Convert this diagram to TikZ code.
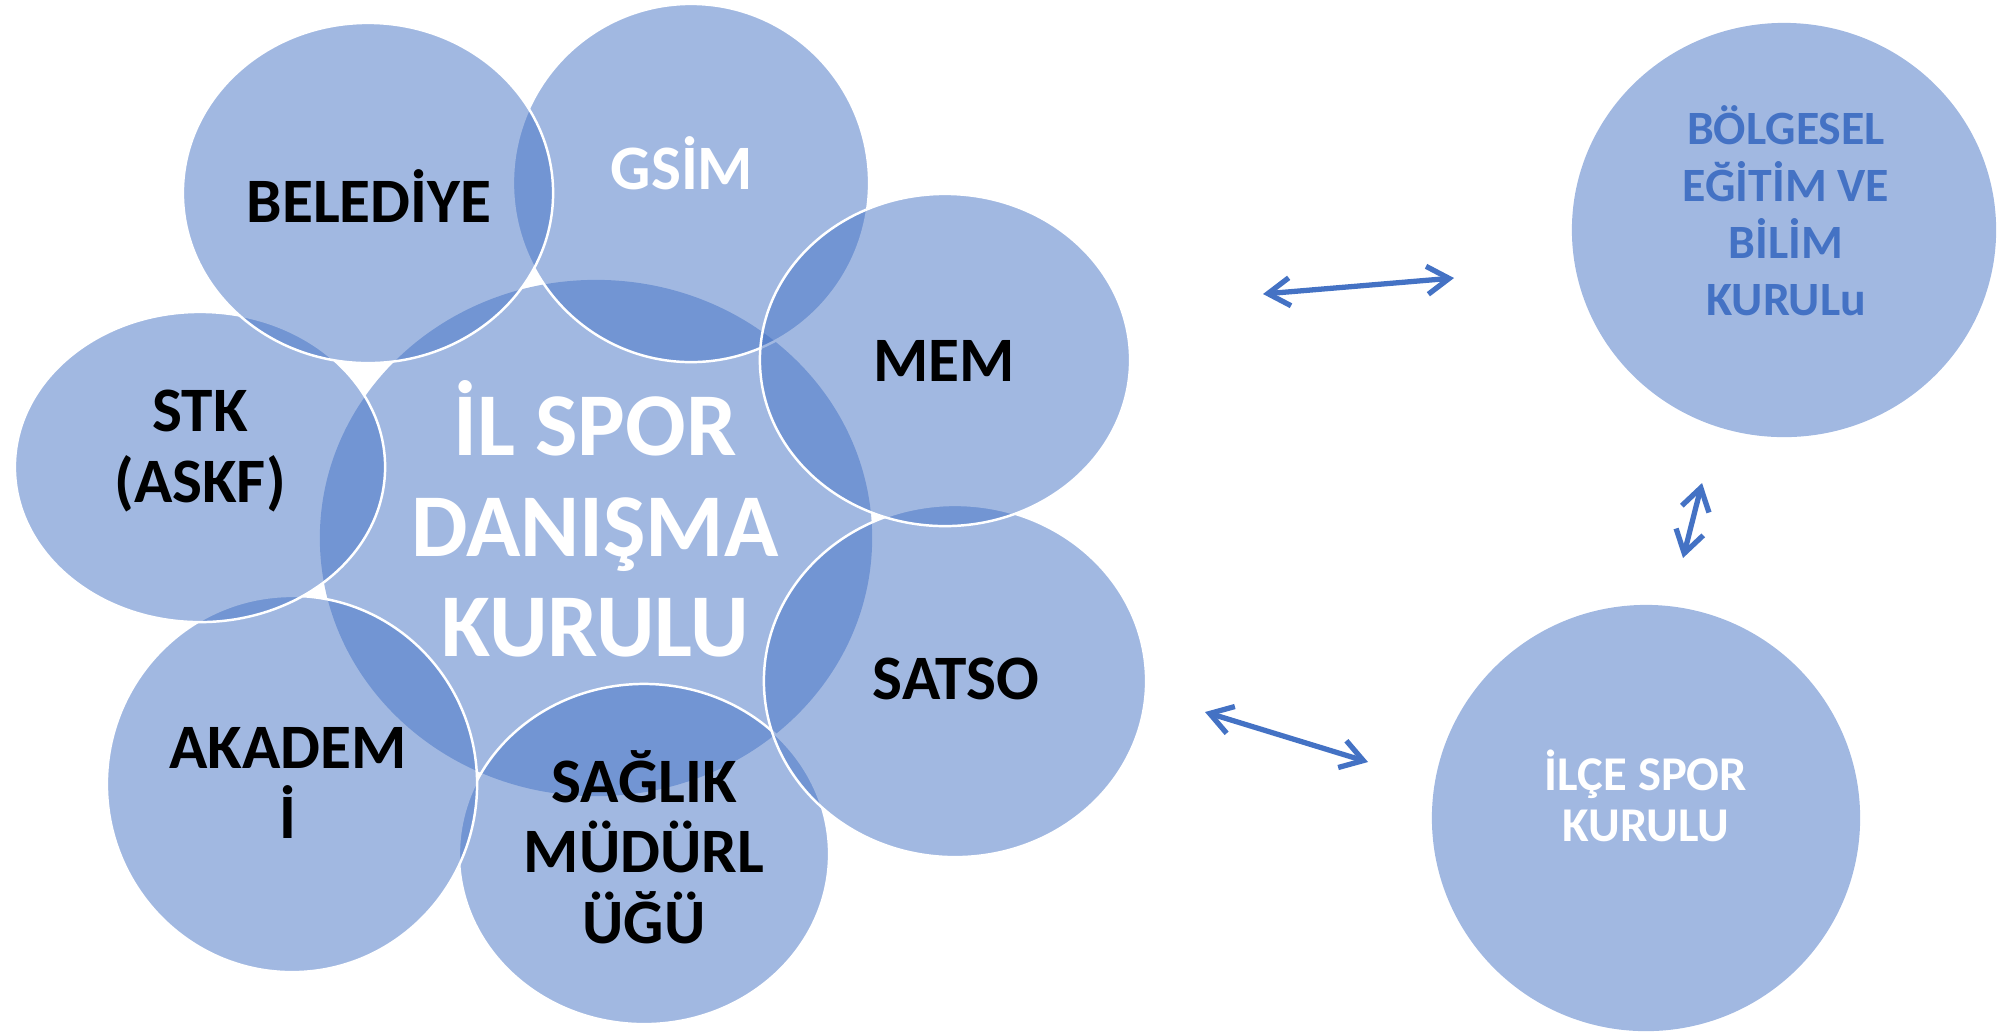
\documentclass[tikz,border=0pt]{standalone}
\usepackage{fontspec}
\setmainfont{Carlito}
\usetikzlibrary{shapes.geometric,arrows.meta}
\definecolor{smblue}{HTML}{4472C4}

\tikzset{
  bubble/.style={ellipse, fill=smblue, fill opacity=0.5, draw=white, line width=0.7pt,
    inner sep=0pt, minimum width=3.70cm, minimum height=3.40cm},
  hub/.style={bubble, draw=none, minimum width=5.52cm, minimum height=5.16cm},
  lbl/.style={align=center, text=black, font=\bfseries\fontsize{18}{20}\selectfont},
  link/.style={smblue, line width=1.5pt, <->}
}

\begin{document}
\begin{tikzpicture}[x=0.01cm, y=-0.01cm,
    >={Straight Barb[length=2.2mm,width=2.8mm]}]
  \useasboundingbox (0,0) rectangle (1998,1032);

  \node[hub] (0) at (596,538) {};
  \node[bubble] (5) at (644,854) {};
  \node[bubble, minimum width=3.82cm, minimum height=3.52cm] (4) at (955,681) {};
  \node[bubble, minimum height=3.76cm] (6) at (292,784) {};
  \node[bubble, minimum width=3.56cm, minimum height=3.58cm] (2) at (691,183) {};
  \node[bubble, minimum height=3.32cm] (3) at (945,360) {};
  \node[bubble, minimum height=3.10cm] (7) at (200,467) {};
  \node[bubble] (1) at (368,193) {};

  \node[hub, minimum width=4.24cm, minimum height=4.14cm] (8) at (1784,230) {};
  \node[hub, minimum width=4.28cm, minimum height=4.26cm] (9) at (1646,818) {};

  \node[lbl, text=white, font=\bfseries\fontsize{25.5}{28.5}\selectfont] (t0) at (595,519)
    {İL SPOR\\DANIŞMA\\KURULU};
  \node[lbl] (t1) at (369,196) {BELEDİYE};
  \node[lbl, text=white] (t2) at (682,163) {GSİM};
  \node[lbl] (t3) at (944,361) {MEM};
  \node[lbl] (t4) at (956,679) {SATSO};
  \node[lbl] (t5) at (644,847) {SAĞLIK\\MÜDÜRL\\ÜĞÜ};
  \node[lbl] (t6) at (288,783) {AKADEM\\İ};
  \node[lbl] (t7) at (200,451) {STK\\(ASKF)};
  \node[lbl, text=smblue, font=\bfseries\fontsize{13.6}{16.2}\selectfont] (t8) at (1786,211)
    {BÖLGESEL\\EĞİTİM VE\\BİLİM\\KURULu};
  \node[lbl, text=white, font=\bfseries\fontsize{13.8}{14.5}\selectfont] (t9) at (1646,796)
    {İLÇE SPOR\\KURULU};

  \coordinate (a1) at (1263,294);
  \coordinate (a2) at (1454,278);
  \coordinate (b1) at (1205,712);
  \coordinate (b2) at (1368,762);
  \coordinate (c1) at (1702,483);
  \coordinate (c2) at (1683,558);

  \draw[link] (a1) -- (a2);
  \draw[link] (b1) -- (b2);
  \draw[link] (c1) -- (c2);
\end{tikzpicture}
\end{document}
